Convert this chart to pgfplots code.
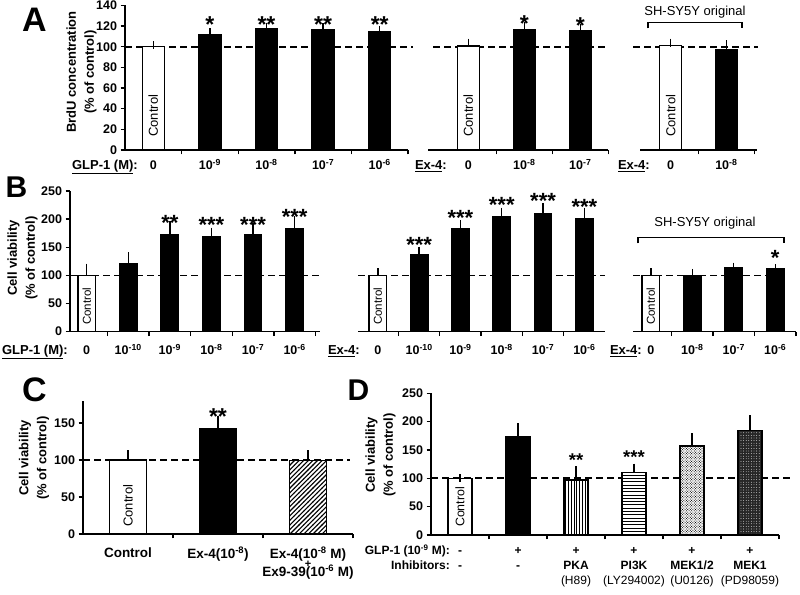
\documentclass[border=0pt]{standalone}
\usepackage{fontspec}
\setmainfont{Liberation Sans}
\usepackage{pgfplots}
\pgfplotsset{compat=1.18}
\usetikzlibrary{patterns}

\newcommand{\fs}[1]{\fontsize{#1}{15}\selectfont}

% heavier fill patterns than the stock ones
\pgfdeclarepatternformonly{vl}{\pgfqpoint{-1pt}{-1pt}}{\pgfqpoint{1pt}{4pt}}{\pgfqpoint{2.8pt}{2.8pt}}%
  {\pgfsetlinewidth{0.9pt}\pgfpathmoveto{\pgfqpoint{0pt}{-0.1pt}}\pgfpathlineto{\pgfqpoint{0pt}{2.9pt}}\pgfusepath{stroke}}
\pgfdeclarepatternformonly{hl}{\pgfqpoint{-1pt}{-1pt}}{\pgfqpoint{4.3pt}{1pt}}{\pgfqpoint{3.3pt}{3.3pt}}%
  {\pgfsetlinewidth{0.9pt}\pgfpathmoveto{\pgfqpoint{-0.1pt}{0pt}}\pgfpathlineto{\pgfqpoint{3.4pt}{0pt}}\pgfusepath{stroke}}
\pgfdeclarepatternformonly{nel}{\pgfqpoint{-1pt}{-1pt}}{\pgfqpoint{5.6pt}{5.6pt}}{\pgfqpoint{4.6pt}{4.6pt}}%
  {\pgfsetlinewidth{1.1pt}\pgfpathmoveto{\pgfqpoint{-0.2pt}{-0.2pt}}\pgfpathlineto{\pgfqpoint{4.8pt}{4.8pt}}\pgfusepath{stroke}}
\pgfdeclarepatternformonly{dd}{\pgfqpoint{-1pt}{-1pt}}{\pgfqpoint{3.5pt}{3.5pt}}{\pgfqpoint{2.6pt}{2.6pt}}%
  {\pgfpathcircle{\pgfqpoint{0pt}{0pt}}{0.55pt}\pgfpathcircle{\pgfqpoint{1.3pt}{1.3pt}}{0.55pt}\pgfusepath{fill}}
\pgfdeclarepatternformonly{wd}{\pgfqpoint{-1pt}{-1pt}}{\pgfqpoint{3.6pt}{3.6pt}}{\pgfqpoint{2.6pt}{2.6pt}}%
  {\pgfpathcircle{\pgfqpoint{0pt}{0pt}}{0.42pt}\pgfusepath{fill}}

\pgfplotsset{
  panel/.style={
    scale only axis, anchor=south west, clip=false,
    ymin=0,
    axis line style={line width=1.5pt},
    tick align=outside, major tick length=4.5pt,
    tick style={line width=1.4pt, black},
    ticklabel style={font=\fs{12.5}\bfseries},
    /pgf/number format/assume math mode=true,
    xticklabels={},
    extra x tick style={major tick length=0pt},
  },
  withy/.style={axis x line*=bottom, axis y line*=left},
  noy/.style={axis x line*=bottom, axis y line=none, ytick=\empty},
  lab/.style={xticklabel style={anchor=north, inner sep=0pt, text height=10pt, text depth=3pt, yshift=#1}},
  bar/.style={ybar, bar shift=0pt, draw=black, line width=1.4pt,
    error bars/y dir=plus, error bars/y explicit,
    error bars/error bar style={line width=1.4pt, black},
    error bars/error mark options={line width=1.4pt, mark size=4pt, black}},
  ctl/.style={bar, fill=white},
  blk/.style={bar, fill=black},
}
\tikzset{
  star/.style={font=\fontsize{#1}{#1}\selectfont\bfseries, inner sep=0pt, yshift={-0.22*#1}},
  ctxt/.style={rotate=90, anchor=west, inner sep=0pt, font=\fs{#1}},
  dash100/.style={line width=1.7pt, dash pattern=on 7pt off 4pt},
  hdr/.style={anchor=base east, inner sep=0pt, font=\fs{13}\bfseries},
  ylab/.style={rotate=90, align=center, font=\fontsize{13}{18}\selectfont\bfseries},
}

\begin{document}
\begin{tikzpicture}
\useasboundingbox (0pt,0pt) rectangle (800pt,594pt);

% ---------------- A ----------------
\node[font=\fontsize{34}{34}\selectfont\bfseries] at (34.5pt,574.5pt) {A};
\node[ylab] at (81.5pt,522pt) {BrdU concentration\\(\% of control)};

\begin{axis}[panel, withy, lab=-9.5pt, at={(125pt,444pt)}, width=283pt, height=144.6pt,
  xmin=-0.5, xmax=4.5, ymax=140, ytick={0,20,...,140},
  xtick={0.5,1.5,2.5,3.5,4.5}, extra x ticks={0,1,2,3,4},
  extra x tick labels={0,10\textsuperscript{-9},10\textsuperscript{-8},10\textsuperscript{-7},10\textsuperscript{-6}},
  bar width=22pt]
  \draw[dash100] (axis cs:-0.5,100) -- (axis cs:4.58,100);
  \addplot[ctl] coordinates {(0,100) +- (0,1.5)};
  \addplot[blk] coordinates {(1,111.3) +- (0,2.7) (2,117.4) +- (0,2) (3,116.8) +- (0,1.9) (4,114.5) +- (0,2)};
  \node[ctxt=13] at (axis cs:0,12.6) {Control};
  \node[star=23] at (axis cs:1,126) {*};
  \node[star=23] at (axis cs:2,126) {**};
  \node[star=23] at (axis cs:3,126) {**};
  \node[star=23] at (axis cs:4,126) {**};
\end{axis}
\node[hdr] at (138pt,424.5pt) {\underline{GLP-1 (M)}:};

\begin{axis}[panel, noy, lab=-9.5pt, at={(428pt,444pt)}, width=180.3pt, height=144.6pt,
  xmin=-0.72, xmax=2.5, ymax=140,
  xtick={0.5,1.5,2.5}, extra x ticks={0,1,2},
  extra x tick labels={0,10\textsuperscript{-8},10\textsuperscript{-7}},
  bar width=22pt]
  \draw[dash100] (axis cs:-0.63,100) -- (axis cs:2.5,100);
  \addplot[ctl] coordinates {(0,100.5) +- (0,3.4)};
  \addplot[blk] coordinates {(1,116.8) +- (0,3.2) (2,115.9) +- (0,2.5)};
  \node[ctxt=13] at (axis cs:0,12.6) {Control};
  \node[star=23] at (axis cs:1,127.5) {*};
  \node[star=23] at (axis cs:2,125.8) {*};
\end{axis}
\node[hdr] at (447pt,424.5pt) {\underline{Ex-4}:};

\begin{axis}[panel, noy, lab=-9.5pt, at={(640pt,444pt)}, width=117pt, height=144.6pt,
  xmin=-0.55, xmax=1.55, ymax=140,
  xtick={0.5,1.5}, extra x ticks={0,1},
  extra x tick labels={0,10\textsuperscript{-8}},
  bar width=22pt]
  \draw[dash100] (axis cs:-0.67,100) -- (axis cs:1.57,100);
  \addplot[ctl] coordinates {(0,101) +- (0,2.9)};
  \addplot[blk] coordinates {(1,97.5) +- (0,4.8)};
  \node[ctxt=13] at (axis cs:0,12.6) {Control};
\end{axis}
\node[hdr] at (650pt,424.5pt) {\underline{Ex-4}:};
\node[font=\fs{13}] at (695pt,582.3pt) {SH-SY5Y original};
\draw[line width=1.3pt] (648pt,565.7pt) -- (648pt,571.7pt) -- (742pt,571.7pt) -- (742pt,565.7pt);

% ---------------- B ----------------
\node[font=\fontsize{30}{30}\selectfont\bfseries] at (16.5pt,407pt) {B};
\node[ylab] at (22.5pt,336pt) {Cell viability\\(\% of control)};

\begin{axis}[panel, withy, lab=-12.9pt, at={(70pt,262.3pt)}, width=249.6pt, height=140.7pt,
  xmin=-0.4, xmax=5.6, ymax=250, ytick={0,50,...,250},
  xtick={0.5,1.5,2.5,3.5,4.5,5.5}, extra x ticks={0,1,2,3,4,5},
  extra x tick labels={0,10\textsuperscript{-10},10\textsuperscript{-9},10\textsuperscript{-8},10\textsuperscript{-7},10\textsuperscript{-6}},
  bar width=17.5pt]
  \draw[dash100] (axis cs:-0.4,100) -- (axis cs:5.6,100);
  \addplot[ctl] coordinates {(0,100) +- (0,13.7)};
  \addplot[blk] coordinates {(1,121.5) +- (0,13) (2,171.8) +- (0,17.8) (3,168.8) +- (0,8.9) (4,171.8) +- (0,13.7) (5,183.7) +- (0,14.8)};
  \node[ctxt=11.5] at (axis cs:0,12) {Control};
  \node[star=22] at (axis cs:2,202) {**};
  \node[star=22] at (axis cs:3,198.5) {***};
  \node[star=22] at (axis cs:4,198.5) {***};
  \node[star=22] at (axis cs:5,213) {***};
\end{axis}
\node[hdr] at (68pt,239.5pt) {\underline{GLP-1 (M)}:};

\begin{axis}[panel, noy, lab=-12.9pt, at={(358pt,262.3pt)}, width=247pt, height=140.7pt,
  xmin=-0.48, xmax=5.5, ymax=250,
  xtick={0.5,1.5,2.5,3.5,4.5}, extra x ticks={0,1,2,3,4,5},
  extra x tick labels={0,10\textsuperscript{-10},10\textsuperscript{-9},10\textsuperscript{-8},10\textsuperscript{-7},10\textsuperscript{-6}},
  bar width=17.5pt]
  \draw[dash100] (axis cs:-0.48,100) -- (axis cs:5.5,100);
  \addplot[ctl] coordinates {(0,100) +- (0,5.5)};
  \addplot[blk] coordinates {(1,137.5) +- (0,6.5) (2,183.7) +- (0,7.1) (3,204.4) +- (0,8.8) (4,210.4) +- (0,11.6) (5,201.5) +- (0,11.7)};
  \node[ctxt=11.5] at (axis cs:0,12) {Control};
  \node[star=22] at (axis cs:1,163) {***};
  \node[star=22] at (axis cs:2,210) {***};
  \node[star=22] at (axis cs:3,234) {***};
  \node[star=22] at (axis cs:4,241) {***};
  \node[star=22] at (axis cs:5,231) {***};
\end{axis}
\node[hdr] at (360pt,239.5pt) {\underline{Ex-4}:};

\begin{axis}[panel, noy, lab=-12.9pt, at={(633pt,262.3pt)}, width=163pt, height=140.7pt,
  xmin=-0.43, xmax=3.5, ymax=250,
  xtick={0.5,1.5,2.5,3.5}, extra x ticks={0,1,2,3},
  extra x tick labels={0,10\textsuperscript{-8},10\textsuperscript{-7},10\textsuperscript{-6}},
  bar width=17.5pt]
  \draw[dash100] (axis cs:-0.43,100) -- (axis cs:3.23,100);
  \addplot[ctl] coordinates {(0,100) +- (0,5.5)};
  \addplot[blk] coordinates {(1,100) +- (0,4.5) (2,113.7) +- (0,1.8) (3,111.4) +- (0,1.2)};
  \node[ctxt=11.5] at (axis cs:0,12) {Control};
  \node[star=22] at (axis cs:3,139) {*};
\end{axis}
\node[hdr] at (642pt,239.5pt) {\underline{Ex-4}:};
\node[font=\fs{13}] at (705pt,371pt) {SH-SY5Y original};
\draw[line width=1.3pt] (638pt,350.7pt) -- (638pt,356.7pt) -- (784pt,356.7pt) -- (784pt,350.7pt);

% ---------------- C ----------------
\node[font=\fontsize{34}{34}\selectfont\bfseries] at (34.5pt,204.5pt) {C};
\node[ylab] at (34pt,136pt) {Cell viability\\(\% of control)};

\begin{axis}[panel, withy, at={(83pt,60pt)}, width=270pt, height=133.2pt,
  xmin=-0.5, xmax=2.5, ymax=180, ytick={0,50,100,150},
  xtick={0.5,1.5,2.5}, extra x ticks={0,1,2},
  xticklabel style={anchor=north, inner sep=0pt, align=center, yshift=-12.8pt, font=\fs{13.5}\bfseries},
  extra x tick labels={{\strut Control},{\strut Ex-4(10\textsuperscript{-8})},{\strut Ex-4(10\textsuperscript{-8} M)\\[-6pt]{\fontsize{11}{11}\selectfont+}\\[-6pt]Ex9-39(10\textsuperscript{-6} M)}},
  bar width=36.5pt]
  \draw[dash100] (axis cs:-0.5,100) -- (axis cs:2.47,100);
  \addplot[ctl] coordinates {(0,100) +- (0,7.7)};
  \addplot[blk] coordinates {(1,142.8) +- (0,11.2)};
  \addplot[bar, fill=white, postaction={pattern=nel}] coordinates {(2,99.5) +- (0,8)};
  \node[ctxt=13] at (axis cs:0,9.5) {Control};
  \node[star=23] at (axis cs:1,165) {**};
\end{axis}

% ---------------- D ----------------
\node[font=\fontsize{30}{30}\selectfont\bfseries] at (358.5pt,204pt) {D};
\node[ylab] at (380.5pt,139pt) {Cell viability\\(\% of control)};

\begin{axis}[panel, withy, at={(431pt,59pt)}, width=348pt, height=141.75pt,
  xmin=-0.5, xmax=5.5, ymax=250, ytick={0,50,...,250},
  xtick={0.5,1.5,2.5,3.5,4.5,5.5}, extra x ticks={0,1,2,3,4,5},
  xticklabel style={anchor=north, inner sep=0pt, align=center, yshift=-9.1pt, font=\fs{12}\bfseries},
  extra x tick labels={{\strut-\\\strut-},{\strut+\\\strut-},{\strut+\\\strut PKA\\\strut\mdseries(H89)},{\strut+\\\strut PI3K\\\strut\mdseries(LY294002)},{\strut+\\\strut MEK1/2\\\strut\mdseries(U0126)},{\strut+\\\strut MEK1\\\strut\mdseries(PD98059)}},
  bar width=24pt]
  \draw[dash100] (axis cs:-0.5,100) -- (axis cs:5.72,100);
  \addplot[ctl] coordinates {(0,100) +- (0,0)};
  \addplot[blk] coordinates {(1,173.4) +- (0,16.6)};
  \addplot[bar, fill=white, postaction={pattern=vl}] coordinates {(2,97) +- (0,17.6)};
  \addplot[bar, fill=white, postaction={pattern=hl}] coordinates {(3,110.6) +- (0,8.1)};
  \addplot[bar, fill=white, postaction={pattern=dd}] coordinates {(4,157) +- (0,15.3)};
  \addplot[bar, fill=black!85, postaction={pattern=wd, pattern color=white}] coordinates {(5,184) +- (0,20)};
  \node[ctxt=12.4] at (axis cs:0,14) {Control};
  \node[star=18.5] at (axis cs:2,139) {**};
  \node[star=18.5] at (axis cs:3,144) {***};
\end{axis}
\node[hdr, font=\fs{12}\bfseries] at (450pt,39.4pt) {GLP-1 (10\textsuperscript{-9} M):};
\node[hdr, font=\fs{12}\bfseries] at (450pt,24.4pt) {Inhibitors:};

\end{tikzpicture}
\end{document}
